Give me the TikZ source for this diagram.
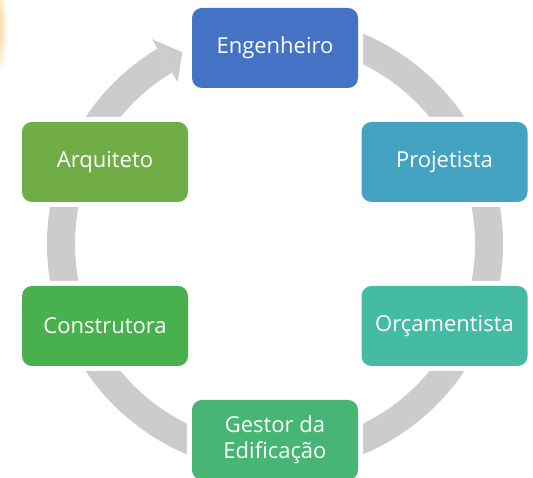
\documentclass[tikz,border=0pt]{standalone}
\usepackage{fontspec}
\setsansfont{Open Sans}
\usepackage{tikz}
\usetikzlibrary{shapes}
\definecolor{ringgray}{HTML}{CCCCCC}
\definecolor{engblue}{HTML}{4472C4}
\definecolor{projblue}{HTML}{44A3C0}
\definecolor{orcteal}{HTML}{45BAA4}
\definecolor{gestgreen}{HTML}{47B574}
\definecolor{construgreen}{HTML}{48B04C}
\definecolor{arqgreen}{HTML}{70AD47}
\definecolor{glow}{HTML}{F5D08A}

\begin{document}
\begin{tikzpicture}[x=1pt,y=1pt,
    box/.style={rectangle, rounded corners=10pt, minimum width=166pt, minimum height=80pt,
      text=white, align=center, font=\sffamily\fontsize{22}{26}\selectfont,
      preaction={draw=white, line width=10pt}}]
        \useasboundingbox (0,0) rectangle (533,478);
        \shade[inner color=glow, outer color=white] (-3,450) ellipse (11 and 50);
        \coordinate (c) at (275,234);
        \draw[ringgray, line width=28pt] ([shift={(c)}]90:214) arc[start angle=90, end angle=-239, radius=214];
        \fill[ringgray] ([shift={(c)}]121:189) -- ([shift={(c)}]115.8:213) -- ([shift={(c)}]121:239) -- cycle;
        \node[box, fill=engblue] (eng) at (275,430) {Engenheiro};
        \node[box, fill=projblue] (proj) at (444.5,316) {Projetista};
        \node[box, fill=orcteal] (orc) at (444.5,152) {Orçamentista};
        \node[box, fill=gestgreen] (gest) at (275,38) {Gestor da\\Edificação};
        \node[box, fill=construgreen] (constr) at (105,152) {Construtora};
        \node[box, fill=arqgreen] (arq) at (105,316) {Arquiteto};
\end{tikzpicture}
\end{document}
